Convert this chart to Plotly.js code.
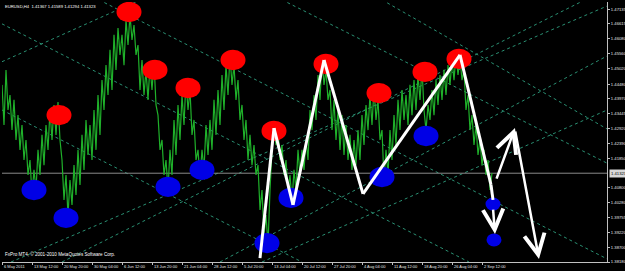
<!DOCTYPE html>
<html><head><meta charset="utf-8">
<script src="https://cdn.plot.ly/plotly-3.0.1.min.js"></script>
<style>html,body{margin:0;padding:0;background:#000;}#chart{width:625px;height:271px;}</style>
</head><body><div id="chart"></div>
<script>
// ---- price series (EURUSD H4), zig-zag of highs/lows ----
const priceY = [1.4445,1.4303,1.4498,1.4356,1.4409,1.4285,1.4392,1.4250,1.4338,1.4215,1.4303,1.4179,1.4250,1.4126,1.4179,1.4055,1.4144,1.4073,1.4215,1.4126,1.4268,1.4161,1.4303,1.4215,1.4356,1.4250,1.4374,1.4268,1.4384,1.4250,1.4179,1.4038,1.4126,1.3984,1.4108,1.4020,1.4161,1.4055,1.4215,1.4091,1.4268,1.4144,1.4321,1.4197,1.4303,1.4179,1.4356,1.4215,1.4409,1.4268,1.4462,1.4356,1.4515,1.4409,1.4569,1.4427,1.4622,1.4498,1.4646,1.4551,1.4622,1.4515,1.4675,1.4586,1.4692,1.4604,1.4657,1.4551,1.4586,1.4427,1.4533,1.4409,1.4498,1.4392,1.4515,1.4427,1.4526,1.4374,1.4338,1.4215,1.4250,1.4126,1.4179,1.4073,1.4215,1.4126,1.4321,1.4197,1.4374,1.4250,1.4409,1.4303,1.4462,1.4356,1.4427,1.4268,1.4321,1.4179,1.4215,1.4115,1.4215,1.4144,1.4303,1.4197,1.4321,1.4215,1.4392,1.4268,1.4427,1.4303,1.4480,1.4356,1.4515,1.4409,1.4551,1.4445,1.4515,1.4392,1.4462,1.4321,1.4374,1.4250,1.4321,1.4179,1.4268,1.4161,1.4232,1.4126,1.4161,1.4002,1.4073,1.3914,1.3984,1.3878,1.4073,1.4215,1.4303,1.4232,1.4285,1.4179,1.4232,1.4126,1.4179,1.4073,1.4126,1.4030,1.4144,1.4073,1.4215,1.4126,1.4215,1.4144,1.4250,1.4179,1.4356,1.4285,1.4409,1.4321,1.4480,1.4392,1.4540,1.4445,1.4498,1.4392,1.4427,1.4285,1.4392,1.4250,1.4356,1.4215,1.4338,1.4197,1.4303,1.4179,1.4268,1.4144,1.4250,1.4161,1.4285,1.4179,1.4338,1.4232,1.4374,1.4285,1.4409,1.4303,1.4434,1.4321,1.4392,1.4250,1.4285,1.4108,1.4215,1.4126,1.4285,1.4179,1.4338,1.4232,1.4392,1.4285,1.4427,1.4321,1.4409,1.4303,1.4445,1.4338,1.4462,1.4356,1.4480,1.4392,1.4505,1.4356,1.4285,1.4374,1.4321,1.4427,1.4338,1.4462,1.4374,1.4480,1.4392,1.4498,1.4409,1.4515,1.4445,1.4533,1.4462,1.4551,1.4480,1.4540,1.4462,1.4498,1.4356,1.4409,1.4285,1.4338,1.4232,1.4303,1.4197,1.4250,1.4161,1.4215,1.4126,1.4179,1.4073,1.4133];
const barsPerPoint = 2;

// ---- marked highs (red) and lows (blue): bar position, price ----
const redX = [127,153,186,231,57,272,324,377,423,457];
const redP = [1.4703,1.4498,1.4434,1.4533,1.4338,1.4282,1.4519,1.4416,1.4491,1.4537];
const blueX = [32,64,166,200,265,289,380,424];
const blueP = [1.4073,1.3974,1.4084,1.4144,1.3885,1.4045,1.4119,1.4264];
const smallBlueX = [491,492];
const smallBlueP = [1.4023,1.3896];

// ---- white zig-zag and projection arrows ----
const zigX = [258,272,291,322,361,458,489,491];
const zigP = [1.3832,1.4292,1.4020,1.4533,1.4059,1.4551,1.4091,1.4038];
const arrowTailX = [494,513,491];
const arrowTailP = [1.4108,1.4285,1.4009];
const arrowHeadX = [513,537,493];
const arrowHeadP = [1.4292,1.3829,1.3917];

// ---- dotted grid lines: start (x,price) -> end (x,price) ----
const gridX0 = [0,97,280,380,0,60,9,218,260,0];
const gridP0 = [1.4661,1.4746,1.4746,1.4746,1.4356,1.3818,1.3818,1.3818,1.3818,1.4527];
const gridX1 = [467,605,605,607,300,583,605,607,607,138];
const gridP1 = [1.3818,1.3829,1.4168,1.4285,1.3818,1.4746,1.4724,1.4551,1.4359,1.4746];

// ---- axes ----
const currentPrice = 1.41323;
const yTicks = [1.47135,1.46615,1.46080,1.45560,1.45020,1.44480,1.43970,1.43445,1.42920,1.42390,1.41850,1.40800,1.40280,1.39755,1.39220,1.38700,1.38180];
const xTickPos = [0,30,60,90,120,150,180,210,240,270,300,330,360,390,420,450,480];
const xTickText = ["6 May 2011","13 May 12:00","20 May 20:00","30 May 04:00","6 Jun 12:00","13 Jun 20:00","21 Jun 04:00","28 Jun 12:00","5 Jul 20:00","13 Jul 04:00","20 Jul 12:00","27 Jul 20:00","4 Aug 04:00","11 Aug 12:00","18 Aug 20:00","26 Aug 04:00","2 Sep 12:00"];
const headerText = "EURUSD,H4  1.41367 1.41589 1.41294 1.41323";
const footerText = "FxPro MT4, © 2001-2010 MetaQuotes Software Corp.";

const priceX = priceY.map((_, i) => i * barsPerPoint);
const fam = 'Liberation Sans, Arial, sans-serif';
const xFont = {family:fam, size:4, color:'#e6e6e6'};
const yFont = {family:fam, size:4.2, color:'#e6e6e6'};

const traces = [];
for (let i = 0; i < gridX0.length; i++) {
  traces.push({type:'scatter', mode:'lines', x:[gridX0[i], gridX1[i]], y:[gridP0[i], gridP1[i]],
    line:{color:'#2a8f72', width:1, dash:'dot'}, hoverinfo:'skip', showlegend:false});
}
traces.push({type:'scatter', mode:'lines', x:[0,605], y:[currentPrice,currentPrice],
  line:{color:'#8a8a8a', width:1}, hoverinfo:'skip', showlegend:false});
traces.push({type:'scatter', mode:'lines', x:priceX, y:priceY,
  line:{color:'#1fb02a', width:1.2}, showlegend:false});

const shapes = [];
function ell(cx, cp, hw, hp, col) {
  shapes.push({type:'circle', xref:'x', yref:'y', x0:cx-hw, x1:cx+hw, y0:cp-hp, y1:cp+hp,
    fillcolor:col, line:{width:0}, layer:'above'});
}
redX.forEach((x,i)=>ell(x, redP[i], 12.5, 0.0036, '#ff0000'));
blueX.forEach((x,i)=>ell(x, blueP[i], 12.5, 0.0036, '#0000e6'));
smallBlueX.forEach((x,i)=>ell(x, smallBlueP[i], 7.5, 0.0023, '#0000e6'));

const annotations = [];
for (let i = 0; i < zigX.length - 1; i++) {
  shapes.push({type:'line', xref:'x', yref:'y', x0:zigX[i], y0:zigP[i], x1:zigX[i+1], y1:zigP[i+1],
    line:{color:'#ffffff', width:3}, layer:'above'});
}
for (let i = 0; i < arrowTailX.length; i++) {
  annotations.push({x:arrowHeadX[i], y:arrowHeadP[i], ax:arrowTailX[i], ay:arrowTailP[i],
    xref:'x', yref:'y', axref:'x', ayref:'y', text:'', showarrow:true,
    arrowhead:5, arrowsize:1.6, arrowwidth:2.5, arrowcolor:'#ffffff'});
}
// date labels, left-aligned at their tick like the terminal draws them
xTickPos.forEach((x,i)=>annotations.push({xref:'x', yref:'paper', x:x+1, y:0, yshift:-1,
  xanchor:'left', yanchor:'top', text:xTickText[i], showarrow:false, borderpad:0, font:xFont}));
annotations.push({xref:'paper', yref:'paper', x:0.003, y:0.995, xanchor:'left', yanchor:'top',
  text:headerText, showarrow:false, borderpad:0, font:{family:fam, size:4.2, color:'#ffffff'}});
annotations.push({xref:'paper', yref:'paper', x:0.003, y:0.014, xanchor:'left', yanchor:'bottom',
  text:footerText, showarrow:false, borderpad:0, font:{family:fam, size:4.6, color:'#ffffff'}});
annotations.push({xref:'paper', yref:'y', x:1.003, y:currentPrice, xanchor:'left', yanchor:'middle',
  text:currentPrice.toFixed(5), showarrow:false, bgcolor:'#d8d8d8', borderpad:1,
  font:Object.assign({}, yFont, {color:'#000000'})});

const layout = {
  width:625, height:271,
  margin:{l:2, r:18, t:2, b:9, pad:0},
  paper_bgcolor:'#000000', plot_bgcolor:'#000000',
  showlegend:false,
  xaxis:{range:[0,605], showgrid:false, zeroline:false, showline:true, linecolor:'#c0c0c0', linewidth:1,
    tickmode:'array', tickvals:xTickPos, showticklabels:false, ticks:'outside', ticklen:2, tickcolor:'#c0c0c0', fixedrange:true},
  yaxis:{range:[1.3818,1.47384], side:'right', showgrid:false, zeroline:false, showline:true, linecolor:'#c0c0c0', linewidth:1,
    tickmode:'array', tickvals:yTicks, ticktext:yTicks.map(v=>v.toFixed(5)), ticks:'outside', ticklen:2, tickcolor:'#c0c0c0',
    tickfont:yFont, fixedrange:true},
  shapes:shapes, annotations:annotations
};
Plotly.newPlot('chart', traces, layout, {staticPlot:true});
</script></body></html>
